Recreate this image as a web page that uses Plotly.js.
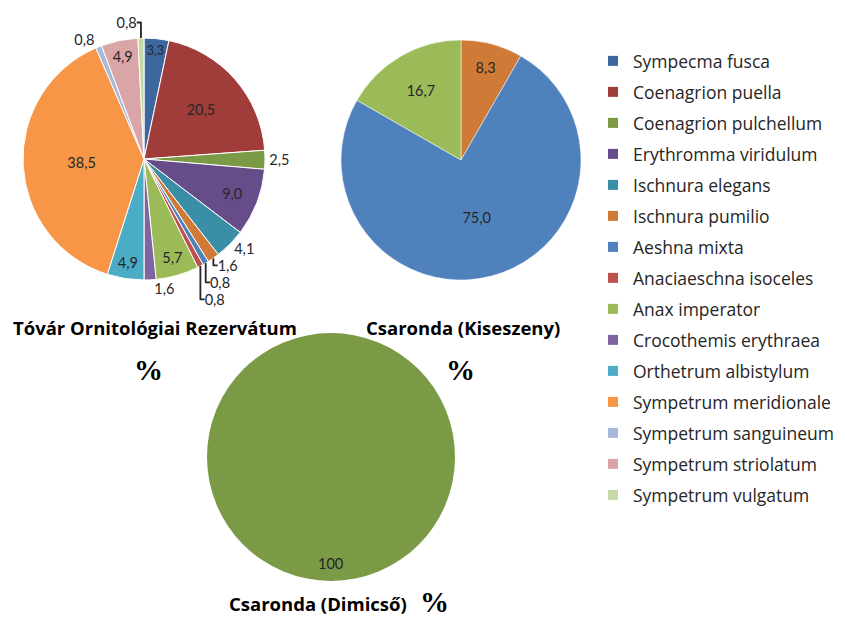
<!DOCTYPE html>
<html><head><meta charset="utf-8">
<script src="https://cdn.plot.ly/plotly-3.0.1.min.js"></script>
<style>html,body{margin:0;padding:0;background:#fff}#chart{width:845px;height:618px}</style>
</head><body><div id="chart"></div>
<script>
const species = ['Sympecma fusca','Coenagrion puella','Coenagrion pulchellum','Erythromma viridulum','Ischnura elegans','Ischnura pumilio','Aeshna mixta','Anaciaeschna isoceles','Anax imperator','Crocothemis erythraea','Orthetrum albistylum','Sympetrum meridionale','Sympetrum sanguineum','Sympetrum striolatum','Sympetrum vulgatum'];
const speciesColors = ['#3D679F','#A03D3B','#7B9A45','#664D8A','#3A8FA6','#D07A38','#4F81BD','#C0504D','#9BBB59','#8064A2','#4BACC6','#F79646','#A7B9D9','#D9A5A6','#C5D8A6'];
const tovarValues = [3.3,20.5,2.5,9.0,4.1,1.6,0.8,0.8,5.7,1.6,4.9,38.5,0.8,4.9,0.8];
const tovarTextPos = ['inside','inside','outside','inside','outside','outside','outside','outside','inside','outside','inside','inside','outside','inside','outside'];
const kiseszenyLabels = ['Ischnura pumilio','Aeshna mixta','Anax imperator'];
const kiseszenyValues = [8.3,75.0,16.7];
const dimicsoLabels = ['Coenagrion pulchellum'];
const dimicsoValues = [100];
const siteTitles = ['Tóvár Ornitológiai Rezervátum','Csaronda (Kiseszeny)','Csaronda (Dimicső)'];
const unitLabel = '%';

const colorOf = n => speciesColors[species.indexOf(n)];
const W = 845, H = 618;
const dom = (cx, cy, r) => ({x:[(cx-r)/W,(cx+r)/W], y:[(H-cy-r)/H,(H-cy+r)/H]});
const FONT = '"Open Sans", Lato, sans-serif';
const LFONT = 'Lato, "Open Sans", sans-serif';
const labelFont = {family: LFONT, size: 14.5, color: '#262626'};

// the Crocothemis label is drawn by a transparent overlay copy of the same pie so it is not stacked under its neighbours
const soloIdx = species.indexOf('Crocothemis erythraea');
const mainPos = tovarTextPos.map((p,i)=> i===soloIdx ? 'none' : p);
const soloPos = tovarTextPos.map((p,i)=> i===soloIdx ? p : 'none');
const pie1Dom = dom(144,159,121);

const traces = [
  {type:'pie', labels:species, values:tovarValues, sort:false, direction:'clockwise', rotation:0,
   marker:{colors:speciesColors, line:{color:'#ffffff', width:1}},
   texttemplate:'%{value:.1f}', textposition:mainPos, insidetextorientation:'horizontal',
   textfont:labelFont, insidetextfont:labelFont, outsidetextfont:labelFont,
   domain:pie1Dom, showlegend:false, hoverinfo:'label+value'},
  {type:'pie', labels:species, values:tovarValues, sort:false, direction:'clockwise', rotation:0,
   marker:{colors:species.map(()=> 'rgba(0,0,0,0)'), line:{width:0}},
   texttemplate:'%{value:.1f}', textposition:soloPos,
   textfont:labelFont, outsidetextfont:labelFont,
   domain:pie1Dom, showlegend:false, hoverinfo:'skip'},
  {type:'pie', labels:kiseszenyLabels, values:kiseszenyValues, sort:false, direction:'clockwise', rotation:0,
   marker:{colors:kiseszenyLabels.map(colorOf), line:{color:'#ffffff', width:0.5}},
   texttemplate:'%{value:.1f}', textposition:'inside', insidetextorientation:'horizontal',
   textfont:labelFont, insidetextfont:labelFont,
   domain:dom(461,160,120), showlegend:false, hoverinfo:'label+value'},
  {type:'pie', labels:dimicsoLabels, values:dimicsoValues, sort:false, direction:'clockwise',
   marker:{colors:dimicsoLabels.map(colorOf), line:{color:'#ffffff', width:0}},
   textinfo:'none', domain:dom(331,457,124), showlegend:false, hoverinfo:'label+value'}
];
species.forEach((s,i)=>{
  traces.push({type:'scatter', mode:'markers', x:[null], y:[null], name:s, legendgroup:'g'+i,
    marker:{symbol:'square', size:10, color:speciesColors[i]}, showlegend:true, hoverinfo:'skip'});
});

const ann = (text, x, y, size, family, bold) => ({text: bold ? '<b>'+text+'</b>' : text, x:x/W, y:1-y/H, xref:'paper', yref:'paper',
  showarrow:false, xanchor:'center', yanchor:'middle', font:{family:family, size:size, color:'#000000'}});
const SERIF = '"Liberation Serif", "Times New Roman", serif';
const annotations = [
  ann(siteTitles[0],155,327,18.5,FONT,true),
  ann(unitLabel,148,370,29,SERIF,true),
  ann(siteTitles[1],463,327,18.5,FONT,true),
  ann(unitLabel,461,370,29,SERIF,true),
  ann(siteTitles[2],318,603,18.5,FONT,true),
  ann(unitLabel,435,602,29,SERIF,true),
  {text:String(dimicsoValues[0]), x:330/W, y:1-563/H, xref:'paper', yref:'paper', showarrow:false,
   font:labelFont, xanchor:'center', yanchor:'middle'}
];

const layout = {
  width:W, height:H, margin:{l:0,r:0,t:0,b:0}, paper_bgcolor:'#ffffff', plot_bgcolor:'rgba(0,0,0,0)',
  separators:', ',
  xaxis:{visible:false, domain:[0.99,1]}, yaxis:{visible:false, domain:[0.99,1]},
  showlegend:true,
  legend:{x:593/W, xanchor:'left', y:1-43/H, yanchor:'top', traceorder:'grouped', tracegroupgap:5.25,
    font:{family:FONT, size:17.5, color:'#262626'}, bgcolor:'rgba(0,0,0,0)'},
  annotations:annotations
};
Plotly.newPlot('chart', traces, layout, {displayModeBar:false, staticPlot:true});
</script>
</body></html>
